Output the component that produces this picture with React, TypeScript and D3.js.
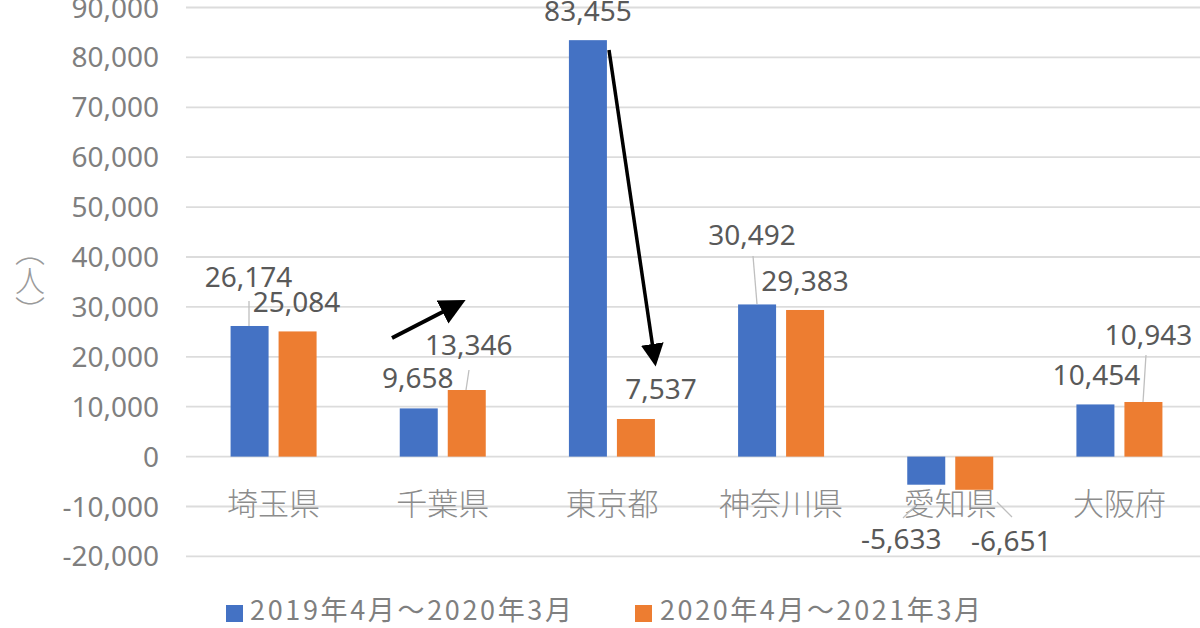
import React from "react";
import * as d3 from "d3";

const categories = ["埼玉県", "千葉県", "東京都", "神奈川県", "愛知県", "大阪府"];
const series2019 = [26174, 9658, 83455, 30492, -5633, 10454];
const series2020 = [25084, 13346, 7537, 29383, -6651, 10943];
const yTicks = [-20000, -10000, 0, 10000, 20000, 30000, 40000, 50000, 60000, 70000, 80000, 90000];
const legendLabels = ["2019年4月～2020年3月", "2020年4月～2021年3月"];
const axisTitle = "（人）";
const blue = "#4472C4";
const orange = "#ED7D31";
const tickGrey = "#7f7f7f";
const labelGrey = "#595959";
const cjk = "'Noto Sans CJK JP','Noto Sans',sans-serif";
const latin = "'Noto Sans',sans-serif";

// Hand-placed data label positions, as in the reference: [x offset from group centre, y]
const lab1: [number, number][] = [[-25, 277], [-25, 378], [-24, 11], [-29, 235], [-49, 539], [-23, 375]];
const lab2: [number, number][] = [[23, 302], [26, 345], [49, 389], [24, 281], [61, 541], [29, 335]];
const leaders: [number, number, number, number][] = [
  [249, 301, 249, 326], [469, 370, 466, 390], [753, 256, 757, 304], [1146, 355, 1143, 402],
  [903, 518, 916, 505], [997, 502, 1012, 517],
];

export default function App() {
  const y = d3.scaleLinear().domain([-20000, 90000]).range([556.4, 7.5]);
  const x = d3.scaleBand<string>().domain(categories).range([189, 1204]);
  const fmt = (v: number) => d3.format(",")(v).replace("−", "-");
  const barW = 38;
  const cx = (c: string) => x(c)! + x.bandwidth() / 2;
  return (
    <svg width={1200} height={628} style={{ position: "absolute", left: 0, top: 0, background: "#fff" }} fontFamily={cjk}>
      <defs>
        <marker id="ah" viewBox="0 0 10 10" refX="8" refY="5" markerWidth="6.5" markerHeight="6.5" orient="auto">
          <path d="M0,0L10,5L0,10Z" fill="#000" />
        </marker>
      </defs>
      {yTicks.map((t) => (
        <g key={t}>
          <line x1={186} x2={1200} y1={y(t)} y2={y(t)} stroke="#dcdcdc" strokeWidth={1.8} />
          <text x={159} y={y(t)} dy="0.36em" textAnchor="end" fontSize={28} fill={tickGrey} fontFamily={latin}>{fmt(t)}</text>
        </g>
      ))}
      <text x={30} y={281} textAnchor="middle" fontSize={30} fill="#9a9a9a" style={{ writingMode: "vertical-rl", fontWeight: 300 }}>{axisTitle}</text>
      {categories.map((c, i) => {
        const a = series2019[i], b = series2020[i];
        const x1 = cx(c) - 43, x2 = cx(c) + 5;
        return (
          <g key={c}>
            <rect x={x1} width={barW} y={Math.min(y(a), y(0))} height={Math.abs(y(a) - y(0))} fill={blue} />
            <rect x={x2} width={barW} y={Math.min(y(b), y(0))} height={Math.abs(y(b) - y(0))} fill={orange} />
            <text x={cx(c)} y={504} dy="0.35em" textAnchor="middle" fontSize={31} fill="#8c8c8c" style={{ fontWeight: 300 }}>{c}</text>
            <text x={cx(c) + lab1[i][0]} y={lab1[i][1]} dy="0.36em" textAnchor="middle" fontSize={28} fill={labelGrey} fontFamily={latin}>{fmt(a)}</text>
            <text x={cx(c) + lab2[i][0]} y={lab2[i][1]} dy="0.36em" textAnchor="middle" fontSize={28} fill={labelGrey} fontFamily={latin}>{fmt(b)}</text>
          </g>
        );
      })}
      {leaders.map((l, i) => (
        <line key={i} x1={l[0]} y1={l[1]} x2={l[2]} y2={l[3]} stroke="#bfbfbf" strokeWidth={1.3} />
      ))}
      <line x1={392} y1={338} x2={461} y2={302.5} stroke="#000" strokeWidth={4} markerEnd="url(#ah)" />
      <line x1={609} y1={50} x2={655} y2={362} stroke="#000" strokeWidth={3.5} markerEnd="url(#ah)" />
      <rect x={226} y={605} width={17} height={17} fill={blue} />
      <text x={250} y={611} dy="0.35em" fontSize={27} fill={tickGrey} textLength={322} lengthAdjust="spacing">{legendLabels[0]}</text>
      <rect x={635} y={605} width={17} height={17} fill={orange} />
      <text x={660} y={611} dy="0.35em" fontSize={27} fill={tickGrey} textLength={321} lengthAdjust="spacing">{legendLabels[1]}</text>
    </svg>
  );
}
